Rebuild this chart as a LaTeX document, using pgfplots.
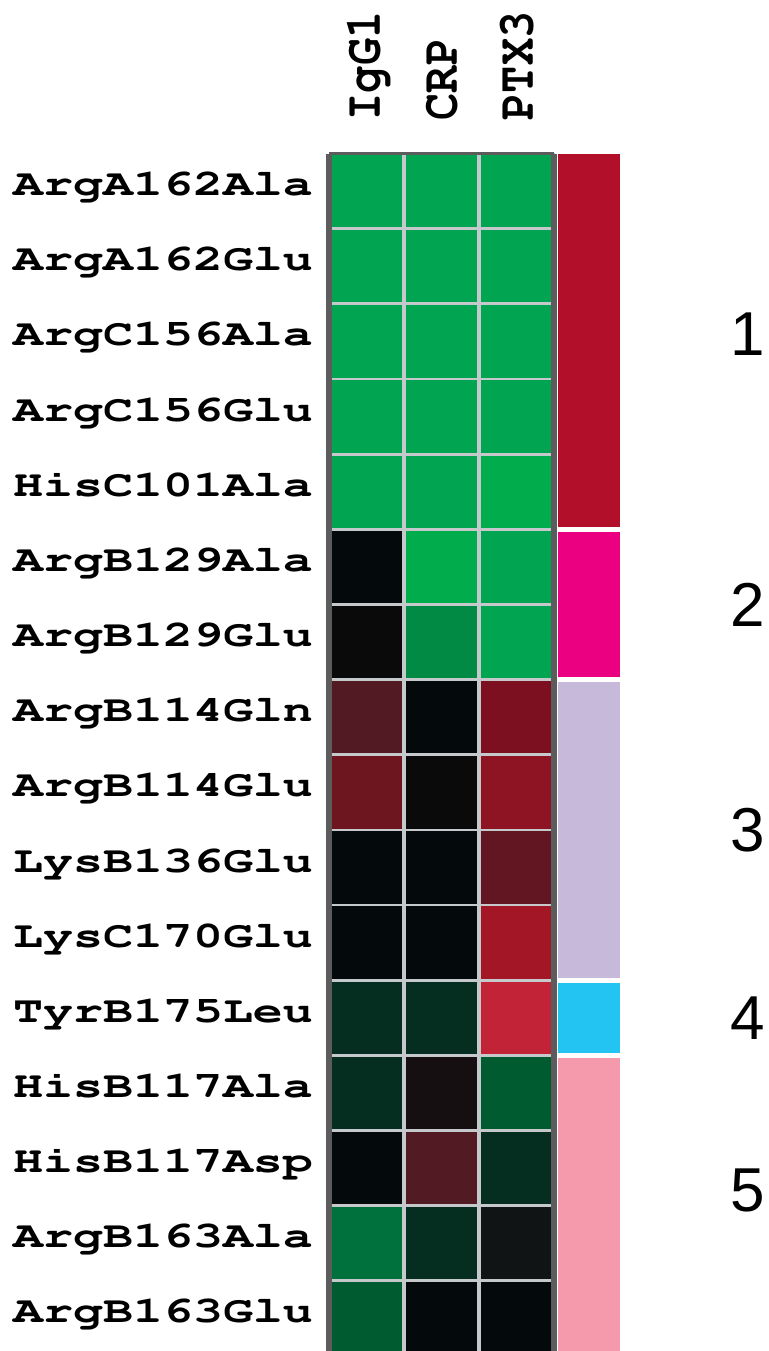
\documentclass[border=0pt]{standalone}
\usepackage[T1,TU]{fontenc}
\usepackage{fontspec}
\usepackage{graphicx}
\usepackage{pgfplots}
\usepackage{pgfplotstable}
\pgfplotsset{compat=1.18}
\newfontfamily\arialf{Liberation Sans}
\newcommand\courb{\fontencoding{T1}\fontfamily{pcr}\fontseries{b}\fontshape{n}\fontsize{18.5}{20}\selectfont}
\newcommand\courbig{\fontencoding{T1}\fontfamily{pcr}\fontseries{b}\fontshape{n}\fontsize{26}{30}\selectfont}
\newcommand\collabel[1]{\rotatebox{90}{\courbig\scalebox{0.87}[1]{#1}}}
\definecolor{gridgray}{RGB}{198,201,204}
\definecolor{bordergray}{RGB}{92,92,92}
\definecolor{cl1}{RGB}{178,16,42}
\definecolor{cl2}{RGB}{236,0,130}
\definecolor{cl3}{RGB}{198,185,218}
\definecolor{cl4}{RGB}{36,196,242}
\definecolor{cl5}{RGB}{245,153,172}

% x = column (IgG1, CRP, PTX3), y = row (0.5 = bottom row), c = colour index
\pgfplotstableread{
x y c
0.5 15.5 0
1.5 15.5 0
2.5 15.5 0
0.5 14.5 0
1.5 14.5 0
2.5 14.5 0
0.5 13.5 0
1.5 13.5 0
2.5 13.5 0
0.5 12.5 0
1.5 12.5 0
2.5 12.5 0
0.5 11.5 0
1.5 11.5 0
2.5 11.5 1
0.5 10.5 3
1.5 10.5 1
2.5 10.5 0
0.5 9.5 16
1.5 9.5 2
2.5 9.5 0
0.5 8.5 4
1.5 8.5 3
2.5 8.5 5
0.5 7.5 6
1.5 7.5 16
2.5 7.5 7
0.5 6.5 3
1.5 6.5 3
2.5 6.5 8
0.5 5.5 3
1.5 5.5 3
2.5 5.5 9
0.5 4.5 10
1.5 4.5 10
2.5 4.5 11
0.5 3.5 10
1.5 3.5 12
2.5 3.5 13
0.5 2.5 3
1.5 2.5 4
2.5 2.5 10
0.5 1.5 14
1.5 1.5 10
2.5 1.5 15
0.5 0.5 13
1.5 0.5 3
2.5 0.5 3
}\heatdata

\begin{document}
\begin{tikzpicture}
\useasboundingbox (-164.75pt,0pt) rectangle (219.75pt,675.5pt);
\begin{axis}[
  at={(0pt,0pt)}, anchor=south west,
  scale only axis, width=112.5pt, height=598.7pt,
  xmin=0, xmax=3, ymin=0.0665, ymax=16,
  clip mode=individual,
  separate axis lines,
  axis x line*=top, axis y line*=box,
  x axis line style={line width=1.5pt, color=bordergray},
  y axis line style={line width=3pt, color=bordergray},
  xtick={1,2}, xticklabels={,,},
  ytick={0.5,1.5,...,15.5},
  yticklabels={ArgB163Glu,ArgB163Ala,HisB117Asp,HisB117Ala,TyrB175Leu,LysC170Glu,LysB136Glu,ArgB114Glu,ArgB114Gln,ArgB129Glu,ArgB129Ala,HisC101Ala,ArgC156Glu,ArgC156Ala,ArgA162Glu,ArgA162Ala},
  yticklabel style={font=\courb, xscale=1.35, anchor=base east, yshift=-2.25pt, xshift=-2.6pt},
  major tick length=0pt, minor tick length=0pt,
  minor ytick={1,2,...,15},
  major x grid style={line width=2pt, color=gridgray},
  minor y grid style={line width=1.4pt, color=gridgray},
  xmajorgrids=true, yminorgrids=true,
  axis on top,
  colormap={heat}{
    rgb255=(0,164,81) rgb255=(0,172,76) rgb255=(0,138,68) rgb255=(4,9,11)
    rgb255=(82,27,36) rgb255=(125,16,32) rgb255=(110,22,32) rgb255=(142,20,36)
    rgb255=(98,22,34) rgb255=(162,22,38) rgb255=(5,46,32) rgb255=(195,35,55)
    rgb255=(22,15,18) rgb255=(0,92,48) rgb255=(0,112,60) rgb255=(16,20,20)
    rgb255=(10,10,10)},
  colormap access=direct,
]
\addplot[matrix plot*, mesh/cols=3, point meta=explicit] table[x=x, y=y, meta=c] {\heatdata};
\node[anchor=south, inner sep=0pt] at ([yshift=16.5pt]axis cs:0.5,16) {\collabel{IgG1}};
\node[anchor=south, inner sep=0pt] at ([yshift=16.5pt]axis cs:1.5,16) {\collabel{CRP}};
\node[anchor=south, inner sep=0pt] at ([yshift=16.5pt]axis cs:2.5,16) {\collabel{PTX3}};
\end{axis}
\begin{axis}[
  at={(114.25pt,0pt)}, anchor=south west,
  scale only axis, width=31pt, height=598.7pt,
  xmin=0, xmax=1, ymin=0.0665, ymax=16,
  axis lines=none, clip=false,
]
\addplot[fill=cl1, draw=none] coordinates {(0,11.033) (1,11.033) (1,16) (0,16)} -- cycle;
\addplot[fill=cl2, draw=none] coordinates {(0,9.033) (1,9.033) (1,10.967) (0,10.967)} -- cycle;
\addplot[fill=cl3, draw=none] coordinates {(0,5.033) (1,5.033) (1,8.967) (0,8.967)} -- cycle;
\addplot[fill=cl4, draw=none] coordinates {(0,4.033) (1,4.033) (1,4.967) (0,4.967)} -- cycle;
\addplot[fill=cl5, draw=none] coordinates {(0,0) (1,0) (1,3.967) (0,3.967)} -- cycle;
\node[font=\arialf\fontsize{31}{36}\selectfont] at (axis cs:3.06,13.6) {1};
\node[font=\arialf\fontsize{31}{36}\selectfont] at (axis cs:3.06,10.0) {2};
\node[font=\arialf\fontsize{31}{36}\selectfont] at (axis cs:3.06,7.0) {3};
\node[font=\arialf\fontsize{31}{36}\selectfont] at (axis cs:3.06,4.5) {4};
\node[font=\arialf\fontsize{31}{36}\selectfont] at (axis cs:3.06,2.2) {5};
\end{axis}
\end{tikzpicture}
\end{document}
